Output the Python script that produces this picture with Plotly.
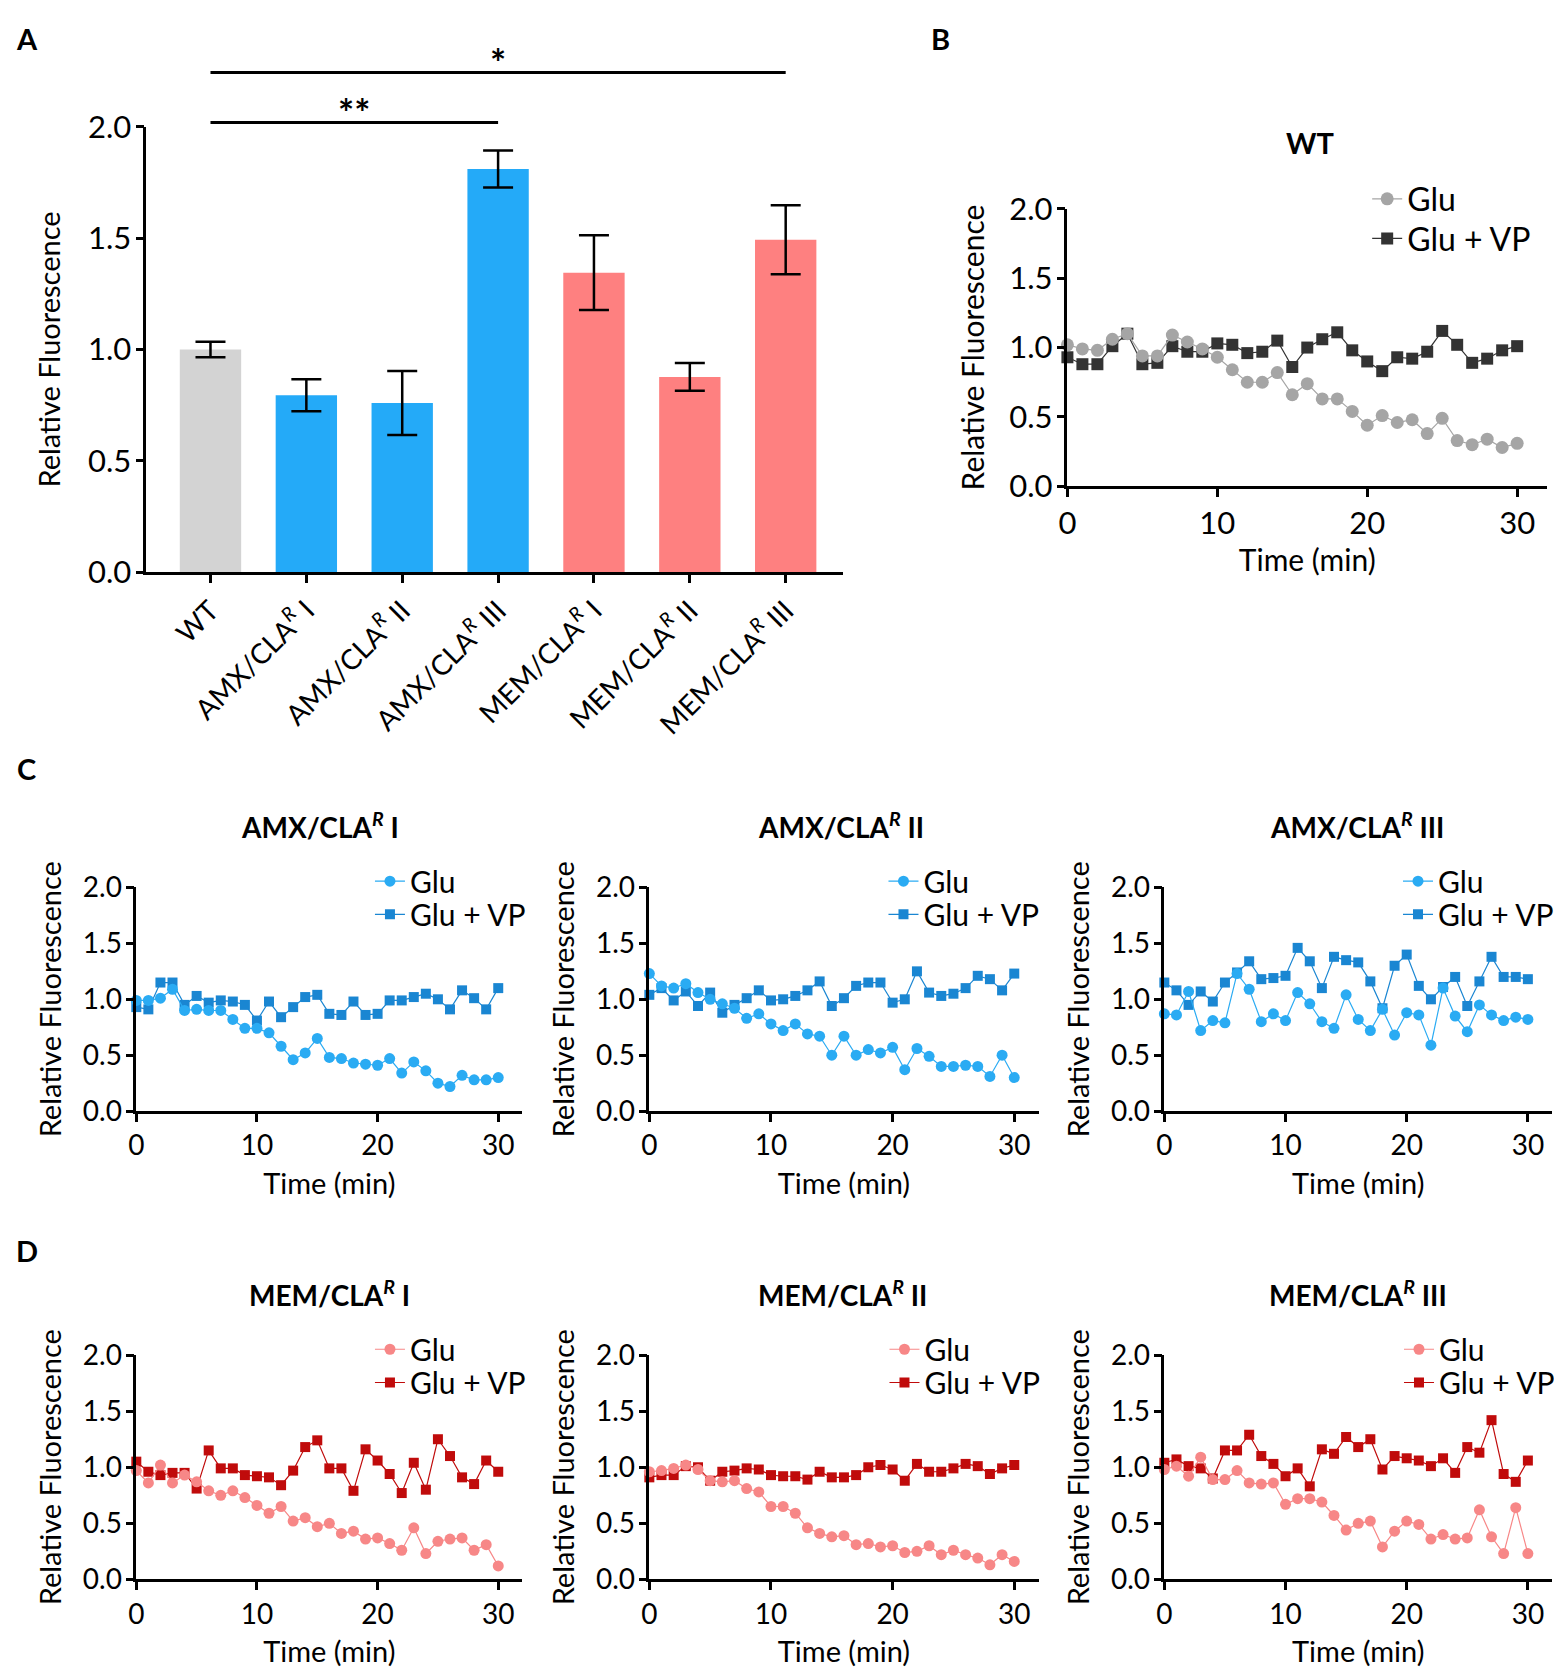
import plotly.graph_objects as go

FONT = "Lato"
W, H = 1562, 1671

# ---------------- data ----------------
time = list(range(31))

strains = ["WT",
           "AMX/CLA<sup><i>R</i></sup> I", "AMX/CLA<sup><i>R</i></sup> II", "AMX/CLA<sup><i>R</i></sup> III",
           "MEM/CLA<sup><i>R</i></sup> I", "MEM/CLA<sup><i>R</i></sup> II", "MEM/CLA<sup><i>R</i></sup> III"]
bar_values = [1.00, 0.795, 0.76, 1.81, 1.345, 0.877, 1.493]
bar_errors = [0.035, 0.072, 0.144, 0.083, 0.168, 0.062, 0.155]
bar_colors = ["#d3d3d3", "#24aaf8", "#24aaf8", "#24aaf8", "#fe8080", "#fe8080", "#fe8080"]

sig_pairs = [(0, 3, "**"), (0, 6, "*")]
sig_levels = [1.0096, 1.1217]  # fraction of the y-axis domain

wt_glu = [1.02, 0.99, 0.98, 1.06, 1.10, 0.94, 0.94, 1.09, 1.04, 0.99, 0.93, 0.84, 0.75, 0.75, 0.82, 0.66,
          0.74, 0.63, 0.63, 0.54, 0.44, 0.51, 0.46, 0.48, 0.38, 0.49, 0.33, 0.30, 0.34, 0.28, 0.31]
wt_vp = [0.93, 0.88, 0.88, 1.01, 1.10, 0.88, 0.89, 1.01, 0.97, 0.97, 1.03, 1.02, 0.96, 0.97, 1.05, 0.86,
         1.00, 1.06, 1.11, 0.98, 0.90, 0.83, 0.93, 0.92, 0.97, 1.12, 1.02, 0.89, 0.92, 0.98, 1.01]

amx1_glu = [0.99, 0.99, 1.01, 1.09, 0.90, 0.91, 0.90, 0.90, 0.82, 0.74, 0.74, 0.70, 0.58, 0.46, 0.52, 0.65,
            0.48, 0.47, 0.43, 0.42, 0.41, 0.47, 0.34, 0.44, 0.36, 0.25, 0.22, 0.32, 0.28, 0.28, 0.30]
amx1_vp = [0.93, 0.91, 1.15, 1.15, 0.95, 1.03, 0.97, 0.99, 0.98, 0.95, 0.81, 0.98, 0.84, 0.93, 1.02, 1.04,
           0.87, 0.86, 0.98, 0.86, 0.87, 0.99, 0.99, 1.02, 1.05, 1.00, 0.91, 1.08, 1.01, 0.91, 1.10]

amx2_glu = [1.23, 1.12, 1.10, 1.14, 1.06, 1.00, 0.96, 0.92, 0.83, 0.87, 0.78, 0.72, 0.78, 0.69, 0.67, 0.50,
            0.67, 0.50, 0.55, 0.52, 0.57, 0.37, 0.56, 0.49, 0.40, 0.40, 0.41, 0.40, 0.31, 0.50, 0.30]
amx2_vp = [1.04, 1.10, 0.99, 1.07, 0.94, 1.06, 0.88, 0.95, 1.01, 1.08, 0.99, 1.00, 1.03, 1.08, 1.16, 0.94,
           1.01, 1.12, 1.15, 1.15, 0.97, 1.00, 1.25, 1.06, 1.03, 1.05, 1.10, 1.21, 1.18, 1.08, 1.23]

amx3_glu = [0.87, 0.86, 1.07, 0.72, 0.81, 0.79, 1.23, 1.09, 0.80, 0.87, 0.81, 1.06, 0.96, 0.80, 0.74, 1.04,
            0.82, 0.72, 0.91, 0.68, 0.88, 0.86, 0.59, 1.10, 0.85, 0.71, 0.95, 0.86, 0.81, 0.84, 0.82]
amx3_vp = [1.15, 1.08, 0.95, 1.07, 0.98, 1.15, 1.24, 1.34, 1.18, 1.19, 1.21, 1.46, 1.34, 1.10, 1.38, 1.35,
           1.33, 1.16, 0.92, 1.30, 1.40, 1.12, 1.00, 1.11, 1.20, 0.94, 1.16, 1.38, 1.20, 1.20, 1.18]

mem1_glu = [0.97, 0.86, 1.02, 0.86, 0.93, 0.87, 0.79, 0.75, 0.79, 0.73, 0.66, 0.59, 0.65, 0.52, 0.55, 0.47,
            0.50, 0.41, 0.43, 0.36, 0.37, 0.32, 0.26, 0.46, 0.23, 0.34, 0.36, 0.37, 0.26, 0.31, 0.12]
mem1_vp = [1.05, 0.96, 0.93, 0.95, 0.95, 0.81, 1.15, 0.99, 0.99, 0.93, 0.92, 0.91, 0.84, 0.97, 1.18, 1.24,
           0.99, 0.99, 0.79, 1.16, 1.06, 0.94, 0.77, 1.04, 0.80, 1.25, 1.10, 0.91, 0.85, 1.06, 0.96]

mem2_glu = [0.96, 0.97, 0.99, 1.02, 0.98, 0.88, 0.87, 0.88, 0.81, 0.78, 0.65, 0.65, 0.59, 0.46, 0.41, 0.38,
            0.39, 0.31, 0.32, 0.29, 0.30, 0.24, 0.25, 0.30, 0.22, 0.26, 0.22, 0.19, 0.13, 0.22, 0.16]
mem2_vp = [0.91, 0.93, 0.93, 1.01, 1.00, 0.88, 0.96, 0.97, 0.99, 0.98, 0.93, 0.92, 0.92, 0.89, 0.96, 0.91,
           0.91, 0.93, 1.00, 1.02, 0.98, 0.88, 1.03, 0.96, 0.96, 0.99, 1.03, 1.01, 0.94, 0.99, 1.02]

mem3_glu = [0.98, 1.01, 0.92, 1.09, 0.89, 0.89, 0.97, 0.86, 0.85, 0.86, 0.67, 0.72, 0.72, 0.69, 0.57, 0.44,
            0.50, 0.52, 0.29, 0.43, 0.52, 0.49, 0.36, 0.40, 0.36, 0.37, 0.62, 0.38, 0.23, 0.64, 0.23]
mem3_vp = [1.04, 1.07, 1.01, 0.99, 0.90, 1.15, 1.15, 1.29, 1.10, 1.03, 0.92, 0.99, 0.83, 1.16, 1.12, 1.27,
           1.18, 1.25, 0.98, 1.10, 1.08, 1.06, 1.01, 1.08, 0.95, 1.18, 1.13, 1.42, 0.94, 0.87, 1.06]

y_ticks = [0, 0.5, 1.0, 1.5, 2.0]
x_ticks = [0, 10, 20, 30]

# ---------------- helpers (layout only) ----------------
def fx(p):
    return p / W

def fy(p):
    return 1 - p / H

fig = go.Figure()

axis_common = dict(showline=True, linecolor="black", linewidth=2.5, ticks="outside", ticklen=8,
                   tickwidth=2.5, tickcolor="black", showgrid=False, zeroline=False)

# ---------------- Panel A ----------------
fig.add_trace(go.Bar(x=strains, y=bar_values, marker=dict(color=bar_colors, line=dict(width=0)),
                     width=0.64, showlegend=False, xaxis="x", yaxis="y",
                     error_y=dict(type="data", array=bar_errors, color="black", thickness=2.5, width=15)))

layout = dict(
    width=W, height=H, margin=dict(l=0, r=0, t=0, b=0),
    paper_bgcolor="white", plot_bgcolor="white",
    font=dict(family=FONT, color="black"),
)
layout["xaxis"] = dict(axis_common, domain=[fx(130), fx(831)], anchor="y", type="category",
                       range=[-0.67, 6.6], tickangle=-45,
                       tickfont=dict(family=FONT, size=28, color="black"))
layout["yaxis"] = dict(axis_common, domain=[fy(557), fy(101)], anchor="x", range=[0, 2],
                       tickvals=y_ticks, tickformat=".1f", ticklabelstandoff=-2,
                       tickfont=dict(family=FONT, size=31, color="black"),
                       title=dict(text="Relative Fluorescence", font=dict(family=FONT, size=29), standoff=19))

shapes = []
annotations = []
for (i, j, lab), lev in zip(sig_pairs, sig_levels):
    shapes.append(dict(type="line", xref="x", yref="y domain", x0=i, x1=j, y0=lev, y1=lev,
                       line=dict(color="black", width=3)))
    annotations.append(dict(xref="x", yref="y domain", x=(i + j) / 2, y=lev, text=f"<b>{lab}</b>",
                            showarrow=False, yanchor="bottom", yshift=-15,
                            font=dict(family=FONT, size=38, color="black")))

# ---------------- Line panels ----------------
# (axis idx, glu, vp, glu colour, vp colour, title, x px domain, y px domain,
#  legend x, legend row ys, title pos, big)
panels = [
    (2, wt_glu, wt_vp, "#a5a5a5", "#333333", "<b>WT</b>", (1056.5, 1539), (469, 185),
     1358, (175, 215.5), (1300, 117), True),
    (3, amx1_glu, amx1_vp, "#2aabf3", "#1a86d2", "<b>AMX/CLA<sup><i>R</i></sup> I</b>", (120, 508.3), (1108.3, 879.5),
     355, (873, 907), (305, 816), False),
    (4, amx2_glu, amx2_vp, "#2aabf3", "#1a86d2", "<b>AMX/CLA<sup><i>R</i></sup> II</b>", (636, 1027.5), (1108.3, 879.5),
     871.5, (873, 907), (829, 816), False),
    (5, amx3_glu, amx3_vp, "#2aabf3", "#1a86d2", "<b>AMX/CLA<sup><i>R</i></sup> III</b>", (1154, 1544), (1108.3, 879.5),
     1389, (873, 907), (1347.5, 816), False),
    (6, mem1_glu, mem1_vp, "#f78787", "#c00b0b", "<b>MEM/CLA<sup><i>R</i></sup> I</b>", (120, 508.3), (1587.5, 1358),
     355, (1352, 1386), (314, 1295), False),
    (7, mem2_glu, mem2_vp, "#f78787", "#c00b0b", "<b>MEM/CLA<sup><i>R</i></sup> II</b>", (636, 1027.5), (1587.5, 1358),
     872.5, (1352, 1386), (830.5, 1295), False),
    (8, mem3_glu, mem3_vp, "#f78787", "#c00b0b", "<b>MEM/CLA<sup><i>R</i></sup> III</b>", (1154, 1544), (1587.5, 1358),
     1390, (1352, 1386), (1348.5, 1295), False),
]

legend_ids = ["legend"] + [f"legend{i}" for i in range(2, 2 * len(panels) + 1)]

for k, (idx, glu, vp, cg, cv, title, xd, yd, lx, lys, tp, big) in enumerate(panels):
    xa, ya = f"x{idx}", f"y{idx}"
    leg_glu, leg_vp = legend_ids[2 * k], legend_ids[2 * k + 1]
    ms_c, ms_s = (13, 12) if big else (11, 10)
    fig.add_trace(go.Scatter(x=time, y=vp, mode="lines+markers", name="Glu + VP", legend=leg_vp,
                             line=dict(color=cv, width=1.2), marker=dict(symbol="square", size=ms_s, color=cv),
                             cliponaxis=False, xaxis=xa, yaxis=ya))
    fig.add_trace(go.Scatter(x=time, y=glu, mode="lines+markers", name="Glu", legend=leg_glu,
                             line=dict(color=cg, width=1.2), marker=dict(symbol="circle", size=ms_c, color=cg),
                             cliponaxis=False, xaxis=xa, yaxis=ya))
    tsize = 31 if big else 28
    is_d = idx >= 6
    layout[f"xaxis{idx}"] = dict(axis_common, domain=[fx(xd[0]), fx(xd[1])], anchor=ya, range=[0, 32],
                                 tickvals=x_ticks, tickfont=dict(family=FONT, size=tsize, color="black"),
                                 title=dict(text="Time (min)", font=dict(family=FONT, size=30 if big else 29),
                                            standoff=9 if big else (13 if is_d else 14)))
    layout[f"yaxis{idx}"] = dict(axis_common, domain=[fy(yd[0]), fy(yd[1])], anchor=xa, range=[0, 2],
                                 tickvals=y_ticks, tickformat=".1f", ticklabelstandoff=-2,
                                 tickfont=dict(family=FONT, size=tsize, color="black"),
                                 title=dict(text="Relative Fluorescence", font=dict(family=FONT, size=30 if big else 29),
                                            standoff=16 if big else 13))
    for leg, ly in ((leg_glu, lys[0]), (leg_vp, lys[1])):
        layout[leg] = dict(x=fx(lx), y=fy(ly), xanchor="left", yanchor="middle", bgcolor="rgba(0,0,0,0)",
                           font=dict(family=FONT, size=32 if big else 30, color="black"))
    annotations.append(dict(xref="paper", yref="paper", x=fx(tp[0]), y=fy(tp[1]), text=title, showarrow=False,
                            xanchor="center", yanchor="middle",
                            font=dict(family=FONT, size=29 if big else 28, color="black")))

# panel letters
for lab, (px, py) in zip(["A", "B", "C", "D"], [(10, 11), (929, 11), (10, 758), (10, 1251)]):
    annotations.append(dict(xref="paper", yref="paper", x=fx(px), y=fy(py), text=f"<b>{lab}</b>",
                            showarrow=False, xanchor="center", yanchor="middle",
                            font=dict(family=FONT, size=29, color="black")))

layout["shapes"] = shapes
layout["annotations"] = annotations
fig.update_layout(**layout)

fig.write_html("out.html")
